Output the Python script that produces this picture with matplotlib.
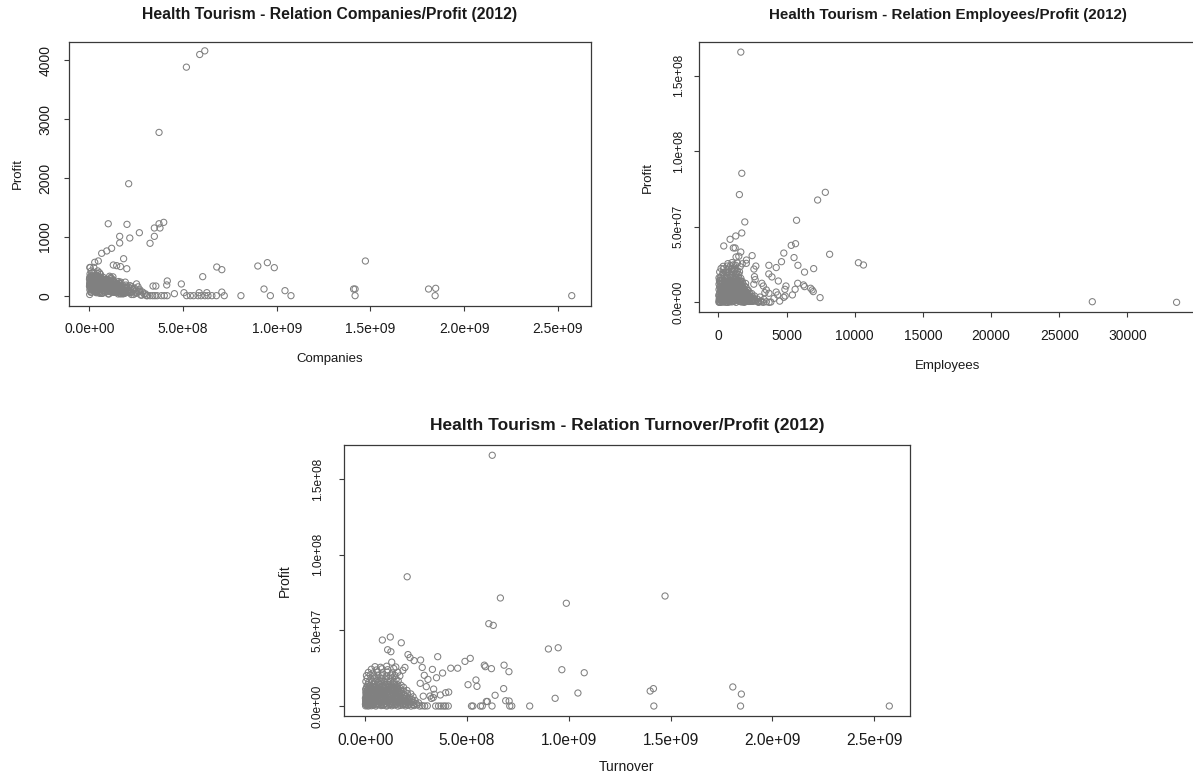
import matplotlib
matplotlib.use("Agg")
import matplotlib.pyplot as plt
import numpy as np

plt.rcParams['font.family'] = ['Liberation Sans', 'DejaVu Sans']

# ---------------- shared cluster of firms (turnover in mio, companies, employees, profit in mio)
cl_turnover = [
    2, 8, 15, 22, 30, 40, 52, 65, 78, 90, 105, 118, 130, 145, 160, 172, 185, 198, 210, 225, 240, 255, 268, 280, 292, 305,
    4, 12, 20, 33, 45, 58, 70, 84, 97, 110, 124, 138, 150, 166, 180, 195, 208, 222, 236, 250, 262,
    3, 10, 18, 28, 38, 50, 62, 75, 88, 100, 113, 127, 140, 154, 168, 182, 196, 212, 228, 245,
    6, 14, 24, 35, 47, 60, 72, 86, 99, 112, 126, 141, 156, 170, 186, 201, 218, 235,
    5, 16, 27, 40, 54, 67, 80, 94, 108, 122, 136, 150, 164, 178, 192, 207, 224,
    9, 21, 34, 46, 59, 73, 87, 101, 115, 130, 145, 160, 175, 190, 205,
    7, 19, 31, 44, 57, 71, 85, 99, 113, 128, 142, 157, 172, 188,
    12, 26, 40, 55, 69, 84, 98, 114, 129, 144, 160, 176,
    3, 17, 33, 48, 64, 79, 95, 110, 126, 143, 162,
    10, 28, 45, 62, 80, 97, 115, 133, 152,
    6, 24, 43, 63, 83, 104, 125, 146, 170,
    15, 38, 60, 84, 108, 133, 160,
    30, 55, 82, 110, 140, 185,
    48, 75, 105, 150, 195,
    1, 6, 11, 17, 25, 34, 43, 55, 67, 80, 93, 107, 121, 136, 151, 167, 183, 200, 218, 236,
    2, 9, 16, 23, 31, 42, 53, 64, 77, 91, 104, 117, 133, 148, 163, 178, 193, 209, 226,
    1, 8, 13, 21, 29, 39, 49, 61, 74, 87, 101, 116, 131, 146, 162, 177, 194, 214,
    4, 11, 19, 26, 36, 45, 57, 69, 83, 96, 110, 125, 139, 155, 171, 189,
    3, 12, 22, 31, 41, 52, 64, 77, 91, 105, 120, 136, 152, 169,
    2, 14, 25, 37, 50, 63, 78, 92, 107, 123, 139, 156,
    8, 20, 35, 50, 66, 82, 99, 117, 135, 154,
]
cl_profit = [
    0.1, 0.4, 0.0, 0.8, 0.2, 0.6, 0.0, 1.0, 0.3, 0.5, 0.0, 0.9, 0.2, 0.7, 0.0, 0.4, 1.1, 0.1, 0.6, 0.0, 0.3, 0.8, 0.0, 0.2, 0.0, 0.1,
    2.1, 1.6, 2.5, 1.9, 2.3, 1.5, 2.7, 2.0, 1.7, 2.4, 1.8, 2.2, 1.4, 2.6, 2.0, 1.6, 2.3, 1.9, 2.5, 1.7, 2.1,
    3.9, 4.3, 3.6, 4.1, 4.6, 3.8, 4.2, 3.5, 4.4, 4.0, 3.7, 4.5, 3.9, 4.2, 3.6, 4.4, 4.0, 3.8, 4.3, 3.7,
    5.9, 6.4, 5.6, 6.2, 5.8, 6.5, 6.0, 5.5, 6.3, 5.9, 6.1, 5.7, 6.4, 6.0, 5.6, 6.2, 5.8, 6.1,
    8.1, 7.6, 8.4, 7.9, 8.3, 7.7, 8.5, 8.0, 7.5, 8.2, 7.8, 8.4, 7.9, 8.1, 7.6, 8.3, 8.0,
    10.2, 9.7, 10.5, 9.9, 10.3, 9.6, 10.1, 10.4, 9.8, 10.0, 10.6, 9.7, 10.2, 9.9, 10.3,
    12.0, 12.4, 11.7, 12.2, 11.9, 12.5, 12.1, 11.6, 12.3, 11.8, 12.2, 12.0, 11.7, 12.4,
    14.1, 13.7, 14.4, 13.9, 14.3, 13.6, 14.2, 14.0, 13.8, 14.5, 14.0, 13.7,
    16.2, 15.8, 16.5, 16.0, 15.7, 16.4, 16.1, 15.9, 16.3, 15.8, 16.6,
    18.3, 17.8, 18.6, 18.0, 18.4, 17.9, 18.2, 18.7, 17.7,
    20.1, 20.6, 19.8, 20.4, 20.0, 19.7, 20.5, 20.2, 19.9,
    22.2, 21.8, 22.6, 22.0, 22.4, 21.9, 22.3,
    24.3, 23.8, 24.6, 24.0, 24.8, 23.6,
    26.0, 25.6, 26.3, 25.8, 25.5,
    1.2, 0.9, 1.4, 1.0, 0.7, 1.3, 1.1, 0.8, 1.5, 1.0, 1.2, 0.6, 1.3, 0.9, 1.1, 1.4, 0.7, 1.0, 1.2, 0.9,
    3.1, 2.8, 3.3, 2.9, 3.4, 3.0, 2.7, 3.2, 3.5, 2.9, 3.1, 3.3, 2.8, 3.0, 3.4, 2.9, 3.2, 3.1, 2.8,
    5.2, 4.8, 5.0, 5.4, 4.9, 5.1, 5.3, 4.7, 5.0, 5.2, 4.9, 5.4, 5.1, 4.8, 5.0, 5.3, 4.9, 5.1,
    7.0, 7.3, 6.8, 7.2, 6.9, 7.4, 7.1, 6.7, 7.2, 7.0, 6.8, 7.3, 7.1, 6.9, 7.2, 7.0,
    9.1, 8.8, 9.3, 9.0, 8.7, 9.4, 9.2, 8.9, 9.0, 9.3, 8.8, 9.1, 9.2, 8.9,
    11.1, 10.8, 11.3, 11.0, 10.7, 11.2, 10.9, 11.4, 11.0, 10.8, 11.3, 11.1,
    13.0, 13.3, 12.8, 13.1, 13.4, 12.9, 13.2, 13.0, 12.7, 13.3,
]
cl_employees = [
    40, 2900, 150, 2600, 380, 2300, 700, 3100, 1000, 2000, 1300, 2750, 1700, 2450, 90, 1850, 2200, 520, 1550, 2950, 850, 1150, 3300, 260, 1900, 620,
    120, 2700, 480, 2200, 900, 2500, 1400, 60, 1800, 2350, 700, 2850, 300, 1600, 2050, 1100, 2600, 200, 1300, 2000, 800,
    1500, 350, 2400, 900, 1950, 100, 2650, 1200, 600, 2150, 1650, 30, 2500, 1050, 450, 1800, 750, 2300, 1350, 250,
    700, 2100, 80, 1600, 2450, 1000, 400, 1900, 1250, 2300, 550, 1450, 180, 2000, 850, 1700, 300, 1150,
    1900, 250, 1350, 2200, 650, 1700, 50, 1100, 2000, 400, 1500, 850, 2150, 300, 1250, 1800, 950,
    350, 1800, 900, 1400, 100, 2050, 600, 1650, 1150, 250, 1950, 800, 1300, 500, 1750,
    1200, 150, 1700, 700, 1450, 2000, 300, 1000, 1800, 550, 1250, 50, 1550, 850,
    600, 1400, 200, 1750, 1000, 450, 1550, 800, 1250, 80, 1650, 1100,
    50, 1100, 650, 1500, 300, 1300, 900, 1650, 150, 1200, 500,
    850, 250, 1350, 600, 1500, 1000, 400, 1250, 700,
    100, 1200, 550, 1400, 800, 350, 1000, 1550, 650,
    400, 1150, 750, 1300, 200, 950, 1050,
    900, 350, 1250, 650, 1100, 1600,
    1400, 700, 1000, 2050, 1750,
    500, 1200, 2000, 250, 1600, 900, 2400, 60, 1350, 1900, 700, 2200, 400, 1050, 1750, 150, 2500, 800, 1450, 350,
    900, 1700, 200, 2300, 1100, 600, 1900, 1300, 300, 2100, 800, 1500, 100, 2000, 1000, 1600, 500, 1200, 2400,
    300, 1400, 850, 2050, 550, 1650, 1100, 2250, 200, 1300, 1850, 700, 1500, 1000, 2100, 400, 1200, 1700,
    1100, 450, 1800, 900, 1400, 150, 2000, 700, 1250, 1650, 350, 1050, 1900, 550, 1500, 800,
    600, 1450, 250, 1750, 1000, 1300, 450, 1900, 800, 1550, 150, 1150, 1700, 700,
    900, 200, 1500, 650, 1200, 1700, 350, 1050, 1400, 800, 1600, 500,
    300, 1100, 700, 1450, 100, 1250, 550, 1600, 900, 1300,
]
cl_companies = [
    20, 310, 90, 250, 150, 340, 60, 280, 200, 120, 30, 230, 180, 70, 210, 110, 40, 160, 90, 20, 130, 50, 80, 10, 30, 0,
    370, 60, 260, 140, 300, 220, 40, 190, 270, 100, 240, 160, 80, 200, 30, 120, 150, 60, 100, 40, 70,
    100, 420, 180, 330, 50, 260, 170, 310, 120, 200, 90, 270, 140, 30, 230, 90, 180, 50, 120, 80,
    250, 140, 480, 60, 210, 360, 120, 280, 70, 190, 320, 110, 240, 150, 60, 130, 170, 100,
    150, 300, 90, 220, 390, 40, 260, 170, 330, 110, 60, 200, 130, 80, 230, 70, 150,
    340, 190, 260, 80, 300, 150, 230, 30, 290, 160, 100, 210, 60, 140, 90,
    60, 400, 230, 150, 320, 90, 270, 190, 130, 250, 70, 180, 120, 40,
    210, 120, 350, 280, 60, 240, 170, 310, 100, 200, 140, 80,
    480, 250, 140, 320, 200, 90, 270, 160, 220, 110, 60,
    300, 180, 420, 110, 260, 200, 150, 230, 90,
    210, 290, 380, 160, 240, 120, 270, 80, 130,
    330, 200, 270, 150, 190, 100, 170,
    240, 310, 180, 130, 220, 70,
    170, 250, 160, 60, 110,
    280, 140, 60, 220, 180, 100, 250, 40, 160, 120, 200, 80, 140, 60, 110, 30, 90, 70, 50, 20,
    200, 110, 300, 170, 70, 240, 130, 190, 90, 150, 210, 60, 120, 180, 40, 100, 140, 80, 60,
    160, 240, 330, 120, 200, 70, 180, 140, 260, 100, 160, 210, 60, 130, 90, 110, 50, 70,
    190, 280, 120, 230, 160, 90, 210, 140, 60, 170, 120, 190, 80, 110, 150, 60,
    230, 150, 300, 90, 190, 250, 120, 170, 210, 80, 140, 100, 60, 120,
    310, 200, 150, 270, 90, 220, 160, 110, 190, 60, 130, 80,
    260, 170, 310, 120, 210, 90, 240, 150, 110, 70,
]

# ---------------- plot-specific outlying firms
# Companies/Profit: x = turnover (mio), y = companies
out1_x = [616, 589, 518, 372, 210, 101, 201, 372, 397, 377, 347, 324, 347, 267, 162, 216, 162,
          119, 93, 66, 48, 29, 4, 183, 128, 146, 166, 200, 680, 707, 605, 416, 413, 491, 454,
          505, 707, 932, 1044, 1410, 1418, 1418, 1473, 1810, 1848, 1845, 2574, 899, 950, 987,
          966, 1076, 720, 809, 340, 355, 324, 338, 350, 362, 385, 400, 415, 519, 539, 556, 580,
          596, 617, 633, 654, 678, 627, 586, 260, 270, 285, 300, 252, 275, 310]
out1_y = [4160, 4098, 3883, 2774, 1902, 1222, 1212, 1222, 1246, 1150, 1150, 890, 1008, 1070, 1008, 980, 895,
          805, 760, 720, 590, 567, 475, 628, 521, 510, 495, 458, 487, 442, 323, 250, 182, 199, 34,
          51, 61, 113, 85, 113, 113, 0, 589, 113, 125, 0, 0, 504, 561, 476,
          0, 0, 0, 0, 164, 164, 0, 0, 0, 0, 0, 0, 0, 0, 0, 0, 0,
          0, 0, 0, 0, 0, 51, 51, 150, 100, 60, 30, 200, 10, 0]

# Employees/Profit: x = employees, y = profit (mio)
out2_x = [1647, 1720, 1544, 1941, 1720, 397, 862, 1277, 1230, 1100, 1647, 1300, 1500, 2060, 2478,
          2750, 2610, 3706, 4245, 3700, 3930, 4400, 4630, 4800, 5345, 5662, 5550, 5835, 5735, 7280,
          7845, 8160, 10270, 10640, 6320, 6990, 2650, 2700, 2600, 4960, 4880, 5820, 6240, 6320, 6765,
          6875, 6960, 7460, 5630, 5430, 4800, 4900, 4240, 4350, 3710, 3720, 4080, 3190, 3300, 3520,
          3410, 3190, 3520, 2970, 3850, 4500, 3050, 3350, 27420, 33600]
out2_y = [165.6, 85.4, 71.3, 53.2, 45.9, 37.3, 41.7, 43.9, 36.0, 36.0, 33.3, 30.0, 30.5, 28.0, 30.9,
          24.0, 22.0, 24.5, 23.0, 18.8, 16.8, 14.1, 26.9, 32.6, 37.7, 38.8, 29.6, 24.5, 54.3, 67.7,
          72.8, 31.8, 26.2, 24.7, 20.0, 22.3, 17.0, 15.0, 12.0, 10.8, 8.6, 12.6, 11.5, 10.4, 9.3,
          8.2, 7.1, 3.1, 8.6, 4.9, 3.3, 4.2, 6.8, 4.9, 6.0, 0.0, 2.6, 12.6, 10.8, 8.2,
          6.4, 0.4, 0.4, 0.4, 0.2, 0.8, 3.5, 2.0, 0.4, 0.0]

# Turnover/Profit: x = turnover (mio), y = profit (mio)
out3_x = [624, 206, 664, 988, 1473, 607, 629, 84, 123, 177, 110, 126, 210, 220, 240, 130, 356, 490,
          516, 900, 948, 330, 350, 380, 420, 454, 585, 620, 590, 682, 706, 966, 1076, 505, 544, 549,
          638, 680, 600, 690, 710, 707, 933, 808, 720, 1045, 1400, 1416, 1418, 1806, 1848, 1844, 2575,
          595, 623, 575, 566, 529, 522, 346, 360, 372, 385, 395, 408, 410, 395, 369, 340, 336, 325,
          272, 280, 290, 308, 270, 300, 318, 285, 334]
out3_y = [165.7, 85.4, 71.4, 67.9, 72.7, 54.4, 53.3, 43.6, 45.6, 41.8, 37.2, 35.9, 34.0, 32.0, 30.0, 29.0, 32.6, 29.5,
          31.5, 37.7, 38.5, 24.2, 18.7, 21.8, 25.0, 25.0, 27.0, 24.7, 26.0, 27.0, 22.7, 24.0, 22.0, 14.1, 17.2, 13.0,
          7.1, 11.5, 3.0, 3.5, 0.0, 3.3, 5.1, 0.0, 0.0, 8.6, 9.9, 11.5, 0.0, 12.6, 7.9, 0.0, 0.0,
          3.0, 0.0, 0.0, 0.0, 0.0, 0.0, 0.0, 0.0, 0.0, 0.0, 0.0, 0.0, 9.2, 8.8, 7.3, 7.7, 11.2, 5.0,
          30.4, 25.5, 20.3, 17.6, 15.0, 12.8, 6.6, 6.5, 5.6]

# ---------------- ticks
turnover_ticks = [0, 5e8, 1e9, 1.5e9, 2e9, 2.5e9]
turnover_labels = ["0.0e+00", "5.0e+08", "1.0e+09", "1.5e+09", "2.0e+09", "2.5e+09"]
companies_ticks = [0, 1000, 2000, 3000, 4000]
companies_labels = ["0", "1000", "2000", "3000", "4000"]
employees_ticks = [0, 5000, 10000, 15000, 20000, 25000, 30000]
employees_labels = ["0", "5000", "10000", "15000", "20000", "25000", "30000"]
profit_ticks = [0, 5e7, 1e8, 1.5e8]
profit_labels = ["0.0e+00", "5.0e+07", "1.0e+08", "1.5e+08"]

MIO = 1e6
PT = 0.72  # points per pixel at 100 dpi

fig = plt.figure(figsize=(11.93, 7.76), dpi=100)
fig.patch.set_facecolor('white')

TXT = '#1a1a1a'
PTC = '#808080'


def r_style(ax, xt, xl, yt, yl, title, xlabel, title_pad, xlab_pad, tick_pad_x, tick_pad_y,
            ylab_pad, xfs, yfs, lfs, tfs):
    for s in ax.spines.values():
        s.set_color('#3a3a3a')
        s.set_linewidth(0.9)
    ax.set_xticks(xt)
    ax.set_xticklabels(xl)
    ax.set_yticks(yt)
    ax.set_yticklabels(yl, rotation=90, va='center')
    ax.tick_params(direction='out', length=5 * PT, width=0.8, color='#3a3a3a', labelcolor=TXT)
    ax.tick_params(axis='x', pad=tick_pad_x * PT, labelsize=xfs)
    ax.tick_params(axis='y', pad=tick_pad_y * PT, labelsize=yfs)
    ax.set_title(title, fontsize=tfs, fontweight='bold', color=TXT, pad=title_pad * PT)
    ax.set_xlabel(xlabel, fontsize=lfs, color=TXT, labelpad=xlab_pad * PT)
    ax.set_ylabel('Profit', fontsize=lfs, color=TXT, labelpad=ylab_pad * PT)


def pts(ax, x, y):
    ax.scatter(x, y, s=20, facecolors='none', edgecolors=PTC, linewidths=0.75, zorder=3)


# ---- plot 1
ax1 = fig.add_axes([0.0581, 0.6057, 0.4371, 0.3406])
pts(ax1, np.array(cl_turnover) * MIO, cl_companies)
pts(ax1, np.array(out1_x) * MIO, out1_y)
ax1.set_xlim(-1.067e8, 2.6755e9)
ax1.set_ylim(-175, 4316)
r_style(ax1, turnover_ticks, turnover_labels, companies_ticks, companies_labels,
        'Health Tourism - Relation Companies/Profit (2012)', 'Companies',
        title_pad=23, xlab_pad=17, tick_pad_x=11, tick_pad_y=12, ylab_pad=14,
        xfs=10, yfs=10, lfs=9.5, tfs=11.3)

# ---- plot 2
ax2 = fig.add_axes([0.5862, 0.5983, 0.4163, 0.3472])
pts(ax2, cl_employees, np.array(cl_profit) * MIO)
pts(ax2, out2_x, np.array(out2_y) * MIO)
ax2.set_xlim(-1393, 35022)
ax2.set_ylim(-6.22e6, 1.721e8)
r_style(ax2, employees_ticks, employees_labels, profit_ticks, profit_labels,
        'Health Tourism - Relation Employees/Profit (2012)', 'Employees',
        title_pad=23, xlab_pad=17, tick_pad_x=12, tick_pad_y=9.5, ylab_pad=19,
        xfs=10, yfs=8.6, lfs=9.5, tfs=10.9)

# ---- plot 3
ax3 = fig.add_axes([0.2883, 0.0773, 0.4742, 0.3492])
pts(ax3, np.array(cl_turnover) * MIO, np.array(cl_profit) * MIO)
pts(ax3, np.array(out3_x) * MIO, np.array(out3_y) * MIO)
ax3.set_xlim(-1.047e8, 2.675e9)
ax3.set_ylim(-6.6e6, 1.7246e8)
r_style(ax3, turnover_ticks, turnover_labels, profit_ticks, profit_labels,
        'Health Tourism - Relation Turnover/Profit (2012)', 'Turnover',
        title_pad=15, xlab_pad=12, tick_pad_x=11.5, tick_pad_y=15, ylab_pad=20,
        xfs=11.2, yfs=8.6, lfs=10, tfs=12.5)

fig.savefig('out.png', dpi=100, facecolor='white')
